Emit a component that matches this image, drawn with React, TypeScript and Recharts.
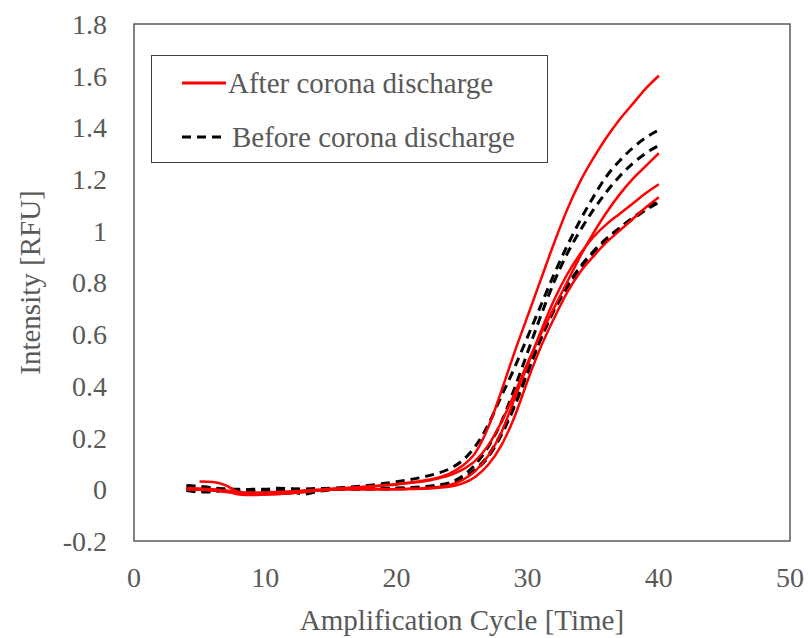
import { LineChart, Line, XAxis, YAxis, ReferenceArea, Label } from 'recharts';

const cycles = [4, 5, 6, 7, 8, 9, 10, 11, 12, 13, 14, 15, 16, 17, 18, 19, 20, 21, 22, 23, 24, 25, 26, 27, 28, 29, 30, 31, 32, 33, 34, 35, 36, 37, 38, 39, 40];

// after corona discharge (red, solid)
const after1 = [0.0, 0.0, -0.005, -0.01, -0.015, -0.015, -0.015, -0.012, -0.01, -0.006, -0.002, 0.002, 0.005, 0.008, 0.012, 0.016, 0.02, 0.026, 0.033, 0.043, 0.06, 0.09, 0.14, 0.24, 0.38, 0.53, 0.67, 0.81, 0.95, 1.08, 1.19, 1.28, 1.36, 1.43, 1.49, 1.55, 1.6];
const after2 = [null, 0.03, 0.028, 0.015, -0.012, -0.018, -0.02, -0.018, -0.015, -0.01, -0.005, 0.0, 0.003, 0.006, 0.01, 0.014, 0.018, 0.024, 0.03, 0.04, 0.053, 0.075, 0.11, 0.17, 0.26, 0.37, 0.49, 0.6, 0.7, 0.8, 0.9, 0.99, 1.07, 1.14, 1.2, 1.25, 1.3];
const after3 = [0.0, -0.002, -0.005, -0.008, -0.02, -0.022, -0.02, -0.018, -0.015, -0.01, -0.005, -0.002, 0.0, 0.0, 0.0, 0.0, 0.001, 0.002, 0.004, 0.008, 0.016, 0.035, 0.07, 0.13, 0.22, 0.35, 0.48, 0.61, 0.73, 0.83, 0.91, 0.975, 1.025, 1.065, 1.105, 1.145, 1.18];
const after4 = [0.005, 0.003, 0.0, -0.005, -0.01, -0.012, -0.012, -0.01, -0.008, -0.005, -0.003, -0.001, 0.0, 0.0, 0.0, 0.0, 0.0, 0.001, 0.002, 0.005, 0.01, 0.022, 0.048, 0.095, 0.17, 0.28, 0.42, 0.55, 0.66, 0.76, 0.84, 0.9, 0.955, 1.0, 1.045, 1.09, 1.13];

// before corona discharge (black, dashed)
const before1 = [0.015, 0.012, 0.006, 0.0, -0.005, -0.008, -0.01, -0.006, -0.002, 0.001, 0.003, 0.004, 0.007, 0.011, 0.016, 0.022, 0.029, 0.037, 0.047, 0.06, 0.078, 0.11, 0.165, 0.25, 0.36, 0.47, 0.59, 0.71, 0.83, 0.94, 1.04, 1.13, 1.21, 1.27, 1.32, 1.36, 1.39];
const before2 = [-0.005, -0.01, -0.01, -0.002, -0.005, 0.0, 0.0, 0.004, 0.0, -0.012, -0.006, 0.0, 0.001, 0.002, 0.003, 0.004, 0.005, 0.007, 0.01, 0.015, 0.025, 0.05, 0.095, 0.165, 0.26, 0.39, 0.53, 0.67, 0.8, 0.91, 1.0, 1.08, 1.15, 1.21, 1.26, 1.3, 1.33];
const before3 = [0.01, 0.008, 0.003, -0.003, -0.008, -0.01, -0.008, -0.006, -0.01, -0.018, -0.008, -0.002, 0.0, 0.001, 0.001, 0.001, 0.002, 0.003, 0.005, 0.009, 0.018, 0.038, 0.072, 0.125, 0.21, 0.32, 0.45, 0.58, 0.69, 0.78, 0.855, 0.915, 0.965, 1.01, 1.05, 1.085, 1.12];
const before4 = [0.0, -0.008, -0.006, 0.002, 0.0, -0.004, -0.006, -0.002, 0.002, 0.0, -0.002, 0.0, 0.001, 0.002, 0.002, 0.002, 0.003, 0.004, 0.006, 0.01, 0.02, 0.04, 0.076, 0.132, 0.218, 0.33, 0.455, 0.585, 0.695, 0.785, 0.86, 0.92, 0.97, 1.01, 1.045, 1.08, 1.11];

const xTicks = [0, 10, 20, 30, 40, 50];
const yTicks = [-0.2, 0, 0.2, 0.4, 0.6, 0.8, 1, 1.2, 1.4, 1.6, 1.8];

const redSeries = { after1, after2, after3, after4 };
const blackSeries = { before1, before2, before3, before4 };

const data = cycles.map((c, i) => {
  const row: Record<string, number | null> = { cycle: c };
  Object.entries(redSeries).forEach(([k, v]) => (row[k] = v[i]));
  Object.entries(blackSeries).forEach(([k, v]) => (row[k] = v[i]));
  return row;
});

const FONT =
  "'Liberation Serif', 'Times New Roman', Times, Tinos, 'Nimbus Roman', 'Nimbus Roman No9 L', 'Noto Serif', 'DejaVu Serif', FreeSerif, serif";
const TEXT = '#595959';
const DASH = '9 6';

function LegendBox() {
  const row = { display: 'flex', alignItems: 'center', height: 54 } as const;
  return (
    <div
      style={{
        position: 'absolute',
        left: 151,
        top: 55,
        width: 397,
        height: 108,
        border: '1.5px solid #404040',
        background: '#fff',
        fontFamily: FONT,
        fontSize: 29,
        color: TEXT,
        boxSizing: 'border-box',
        paddingLeft: 30,
      }}
    >
      <div style={row}>
        <svg width={44} height={10} style={{ marginRight: 2 }}>
          <line x1={0} y1={5} x2={44} y2={5} stroke="#ff0000" strokeWidth={3} />
        </svg>
        <span>After corona discharge</span>
      </div>
      <div style={row}>
        <svg width={44} height={10} style={{ marginRight: 6 }}>
          <line x1={0} y1={5} x2={44} y2={5} stroke="#000" strokeWidth={3} strokeDasharray={DASH} />
        </svg>
        <span>Before corona discharge</span>
      </div>
    </div>
  );
}

export default function App() {
  const fmt = (v: number) => String(Number(v.toFixed(1)));
  return (
    <div style={{ position: 'absolute', left: 0, top: 0, width: 808, height: 638, background: '#fff', fontFamily: FONT }}>
      <LineChart width={808} height={638} data={data} margin={{ top: 24, right: 18, bottom: 0, left: 0 }}>
        <XAxis
          dataKey="cycle"
          type="number"
          domain={[0, 50]}
          ticks={xTicks}
          axisLine={false}
          tickLine={false}
          tickSize={0}
          tickMargin={26}
          height={97}
          tick={{ fill: TEXT, fontSize: 28, fontFamily: FONT }}
        >
          <Label value="Amplification Cycle [Time]" position="insideBottom" offset={8} fill={TEXT} fontSize={29} fontFamily={FONT} />
        </XAxis>
        <YAxis
          type="number"
          domain={[-0.2, 1.8]}
          ticks={yTicks}
          tickFormatter={fmt}
          axisLine={false}
          tickLine={false}
          tickSize={0}
          tickMargin={27}
          width={134}
          tick={{ fill: TEXT, fontSize: 28, fontFamily: FONT }}
        >
          <Label
            value="Intensity [RFU]"
            angle={-90}
            position="insideLeft"
            offset={30}
            fill={TEXT}
            fontSize={29}
            fontFamily={FONT}
            style={{ textAnchor: 'middle' }}
          />
        </YAxis>
        <ReferenceArea x1={0} x2={50} y1={-0.2} y2={1.8} fill="none" stroke="#595959" strokeWidth={1.5} />
        {Object.keys(blackSeries).map((k) => (
          <Line
            key={k}
            dataKey={k}
            type="monotone"
            stroke="#000"
            strokeWidth={3}
            strokeDasharray={DASH}
            dot={false}
            isAnimationActive={false}
          />
        ))}
        {Object.keys(redSeries).map((k) => (
          <Line key={k} dataKey={k} type="monotone" stroke="#ff0000" strokeWidth={2.5} dot={false} isAnimationActive={false} />
        ))}
      </LineChart>
      <LegendBox />
    </div>
  );
}
